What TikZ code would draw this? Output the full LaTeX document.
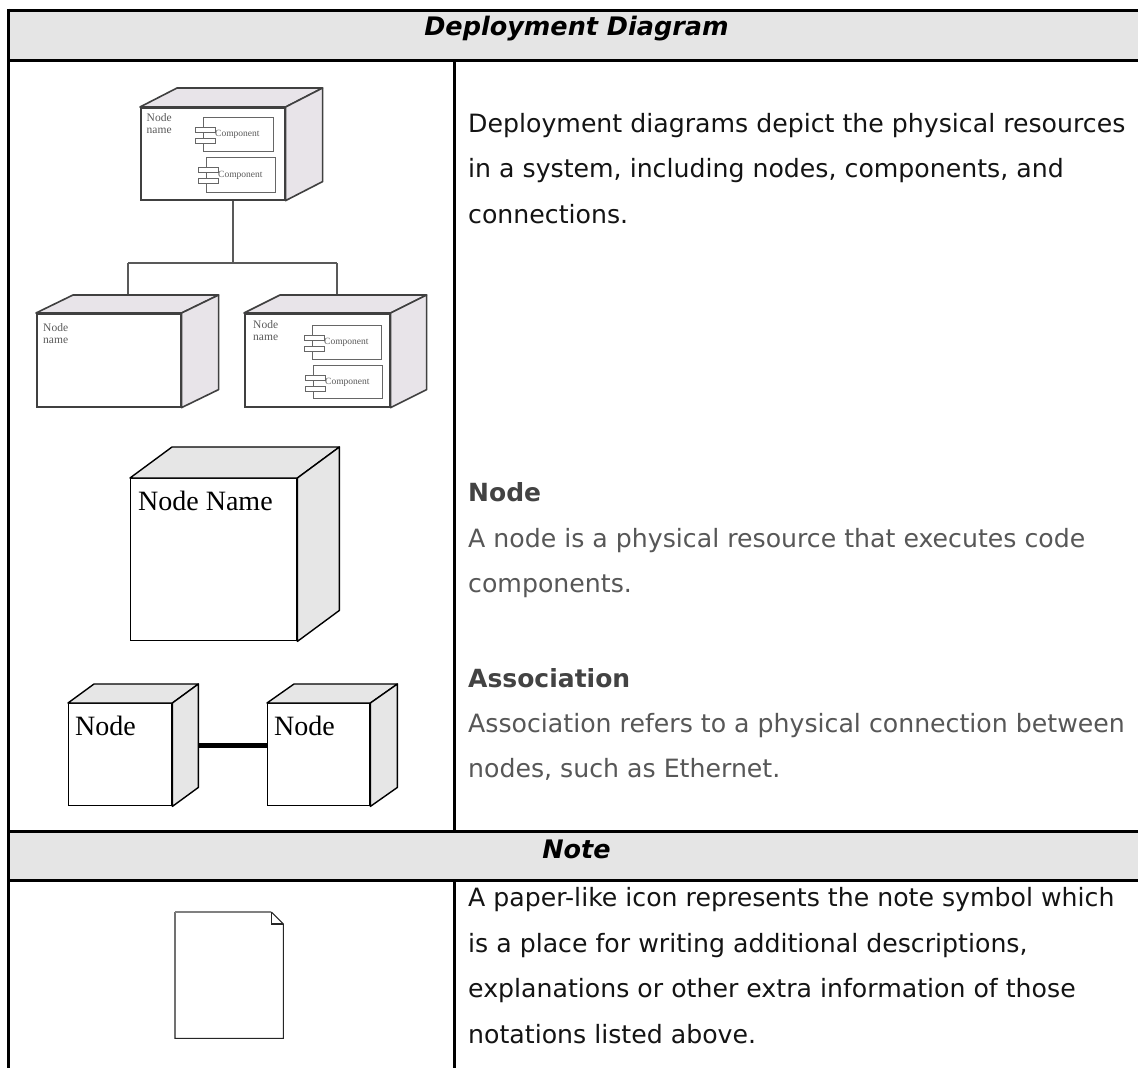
\documentclass[tikz,border=0pt]{standalone}
\usepackage{fontspec}
\newfontfamily\vfont{DejaVu Sans}
\newfontfamily\tfont{Liberation Serif}
\usetikzlibrary{calc,backgrounds}

\definecolor{bandgray}{HTML}{E5E5E5}
\definecolor{facegray}{HTML}{E6E6E6}
\definecolor{faceblush}{HTML}{E8E4E9}
\definecolor{headtxt}{HTML}{434343}
\definecolor{desctxt}{HTML}{575757}
\definecolor{bodytxt}{HTML}{141414}
\definecolor{smallink}{HTML}{5A5A5A}

\tikzset{
  rule/.style={line width=3pt, black},
  band/.style={fill=bandgray, draw=none},
  bandtitle/.style={anchor=base, inner sep=0pt, text=black,
    font=\vfont\bfseries\itshape\fontsize{25.5}{30}\selectfont},
  body/.style={anchor=base west, inner sep=0pt, text=bodytxt,
    font=\vfont\fontsize{25.2}{30}\selectfont},
  desc/.style={body, text=desctxt},
  subhead/.style={body, text=headtxt, font=\vfont\bfseries\fontsize{25}{30}\selectfont},
  % three-dimensional deployment node
  cubefront/.style={draw, fill=white, inner sep=0pt},
  cubeface/.style={draw},
  smallcube/.style={cubefront/.append style={draw=black!75, line width=1.6pt},
    cubeface/.append style={draw=black!75, fill=faceblush, line width=1.6pt, line join=round}},
  bigcube/.style={cubefront/.append style={draw=black, line width=1.4pt},
    cubeface/.append style={draw=black, fill=facegray, line width=1.4pt, line join=round}},
  wire/.style={draw=black!65, line width=1.3pt},
  assoc/.style={draw=black, line width=5pt},
  compbox/.style={draw=black!60, fill=white, line width=1pt, inner sep=0pt, anchor=north west},
  comptab/.style={draw=black!60, fill=white, line width=1pt, inner sep=0pt,
    minimum width=20pt, minimum height=5pt, anchor=north west},
  complabel/.style={anchor=west, inner sep=0pt, text=smallink,
    font=\tfont\fontsize{9.5}{10}\selectfont},
  tinyname/.style={anchor=north west, inner sep=0pt, text=smallink, align=left,
    font=\tfont\fontsize{11.5}{12.3}\selectfont},
  bigname/.style={anchor=base west, inner sep=0pt, text=black,
    font=\tfont\fontsize{28}{30}\selectfont},
}

% #1 name, #2 x, #3 y of front top-left, #4 width, #5 height, #6/#7 depth offset
\newcommand\cubenode[7]{%
  \node[cubefront, minimum width=#4, minimum height=#5, anchor=north west] (#1) at (#2,#3) {};
  \draw[cubeface] (#1.north west) -- ++(#6,#7) -- ($(#1.north east)+(#6,#7)$)
    -- (#1.north east) -- cycle;
  \draw[cubeface] (#1.north east) -- ($(#1.north east)+(#6,#7)$)
    -- ($(#1.south east)+(#6,#7)$) -- (#1.south east) -- cycle;
}

% #1 name, #2 x, #3 y of the body's top-left, #4 width, #5 height
\newcommand\component[5]{%
  \node[compbox, minimum width=#4, minimum height=#5] (#1) at (#2,#3) {};
  \node[comptab] (#1-a) at ($(#1.north west)+(-8,10)$) {};
  \node[comptab] (#1-b) at ($(#1.north west)+(-8,21)$) {};
  \node[complabel] (#1-l) at ($(#1.west)+(12,0)$) {Component};
}

\begin{document}
\begin{tikzpicture}[x=1pt,y=-1pt]
\useasboundingbox (0,0) rectangle (1138,1068);
\begin{scope}[on background layer]
  \fill[white] (0,0) rectangle (1138,1068);
\end{scope}

% ---- table frame ----
\fill[band] (8,10) rectangle (1145,60);
\fill[band] (8,831.5) rectangle (1145,880);
\draw[rule] (8,10) -- (1145,10);
\draw[rule] (8,60) -- (1145,60);
\draw[rule] (8,831.5) -- (1145,831.5);
\draw[rule] (8,880) -- (1145,880);
\draw[rule] (8,8.5) -- (8,1070);
\draw[rule] (454,60) -- (454,831.5);
\draw[rule] (454,880) -- (454,1070);

\node[bandtitle] (title) at (576.5,35) {Deployment Diagram};
\node[bandtitle] (notetitle) at (576.5,858) {Note};

% ---- deployment overview: one node feeding two ----
\begin{scope}[smallcube]
  \cubenode{tn}{140}{107}{144}{92}{37}{-19}
  \cubenode{nl}{36}{313}{144}{93}{37}{-18}
  \cubenode{nr}{244}{313}{145}{93}{36}{-18}
\end{scope}
\node[tinyname] (tn-name) at (146.5,113.5) {Node\\name};
\node[tinyname] (nl-name) at (43,323) {Node\\name};
\node[tinyname] (nr-name) at (253,320.5) {Node\\name};
\component{tc1}{203}{117}{70}{34}
\component{tc2}{206}{157}{69}{35}
\component{rc1}{312}{325}{69}{34}
\component{rc2}{313}{365}{69}{33}

% the wires run under the node faces, which hide their ends
\coordinate (hub) at (233,263);
\coordinate (busL) at (128,263);
\coordinate (busR) at (337,263);
\begin{scope}[on background layer]
  \draw[wire] (tn.south -| hub) -- (hub);
  \draw[wire] (busL) -- (busR);
  \draw[wire] (busL) -- (busL |- nl.north);
  \draw[wire] (busR) -- (busR |- nr.north);
\end{scope}

% ---- node symbol ----
\begin{scope}[bigcube]
  \cubenode{bign}{130}{478}{166}{162}{42}{-31}
\end{scope}
\node[bigname] (bign-name) at (138,510) {Node Name};

% ---- association symbol ----
\begin{scope}[bigcube]
  \cubenode{an1}{68}{703}{103}{102}{26}{-19}
  \cubenode{an2}{267}{703}{102}{102}{27}{-19}
\end{scope}
\node[bigname] (an1-name) at (75,735) {Node};
\node[bigname] (an2-name) at (274,735) {Node};
\draw[assoc] ($(an1.east)+(26,-9)$) -- ($(an2.west)+(0,-9)$);

% ---- note symbol ----
\node[draw=none, fill=none, minimum width=108, minimum height=126, inner sep=0pt,
  anchor=north west] (memo) at (175,912) {};
\draw[line width=1.1pt, black!85, line join=miter]
  ($(memo.north east)+(-12,0)$) -- ($(memo.north east)+(0,12)$)
  -- (memo.south east) -- (memo.south west) -- (memo.north west);
\draw[line width=1.1pt, black!50] (memo.north west) -- ($(memo.north east)+(-12,0)$);
\draw[line width=1.1pt, black!85]
  ($(memo.north east)+(-12,0)$) -- ++(0,12) -- ++(12,0);

% ---- descriptions ----
\node[body] (d1) at (468,132) {Deployment diagrams depict the physical resources};
\node[body] (d2) at (468,177.5) {in a system, including nodes, components, and};
\node[body] (d3) at (468,223) {connections.};

\node[subhead] (h1) at (468,501.5) {Node};
\node[desc] (n1) at (468,547) {A node is a physical resource that executes code};
\node[desc] (n2) at (468,592.5) {components.};

\node[subhead] (h2) at (468,687) {Association};
\node[desc] (a1) at (468,732) {Association refers to a physical connection between};
\node[desc] (a2) at (468,777.5) {nodes, such as Ethernet.};

\node[body] (m1) at (468,906.5) {A paper-like icon represents the note symbol which};
\node[body] (m2) at (468,952) {is a place for writing additional descriptions,};
\node[body] (m3) at (468,997.5) {explanations or other extra information of those};
\node[body] (m4) at (468,1043) {notations listed above.};
\end{tikzpicture}
\end{document}
